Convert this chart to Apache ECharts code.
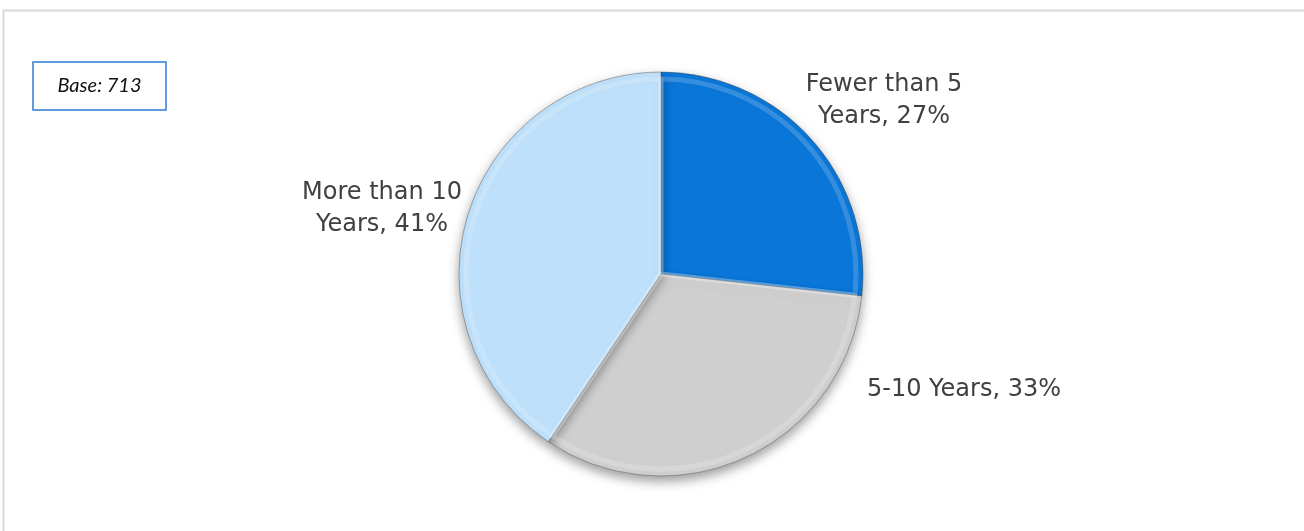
<!DOCTYPE html>
<html>
<head>
<meta charset="utf-8">
<script src="https://cdn.jsdelivr.net/npm/echarts@6/dist/echarts.min.js"></script>
<style>
    html, body { margin: 0; padding: 0; background: #fff; }
    #chartEl { width: 1304px; height: 531px; }
</style>
</head>
<body>
<div id="chartEl"></div>
<script>
// data
var categories = ['Fewer than 5\nYears', '5-10 Years', 'More than 10\nYears'];
var shares = [27, 33, 41];
var baseCount = 713;

var sliceColors = ['#0a76d8', '#cfcfcf', '#bee0fa'];
// where each label sits (x, y, align)
var labelSpots = [
    [884, 101, 'center'],
    [867, 390, 'left'],
    [382, 209, 'center']
];

var chart = echarts.init(document.getElementById('chartEl'));

var pieData = [];
for (var i = 0; i < categories.length; i++) {
    pieData.push({
        name: categories[i],
        value: shares[i],
        itemStyle: { color: sliceColors[i] }
    });
}

var option = {
    animation: false,
    graphic: [
        {
            // chart frame, cut at top/left like the slide
            type: 'polyline',
            shape: { points: [[3.5, 540], [3.5, 10.5], [1310, 10.5]] },
            style: { fill: null, stroke: '#d9d9d9', lineWidth: 2 }
        },
        {
            type: 'rect',
            shape: { x: 33, y: 62, width: 133, height: 48 },
            style: { fill: '#fff', stroke: '#2a7fd4', lineWidth: 1.5 }
        },
        {
            type: 'text',
            x: 99.5,
            y: 86,
            style: {
                text: 'Base: ' + baseCount,
                font: 'italic 20px Lato',
                fill: '#111',
                align: 'center',
                verticalAlign: 'middle'
            }
        }
    ],
    series: [
        {
            type: 'pie',
            center: [661, 274],
            radius: 202,
            startAngle: 90,
            clockwise: true,
            data: pieData,
            itemStyle: {
                borderColor: 'rgba(60,60,60,0.4)',
                borderWidth: 1,
                shadowBlur: 12,
                shadowOffsetY: 5,
                shadowColor: 'rgba(0,0,0,0.4)'
            },
            label: {
                show: true,
                position: 'outside',
                formatter: '{b}, {c}%',
                fontFamily: 'DejaVu Sans',
                fontSize: 24,
                lineHeight: 32,
                color: '#404040'
            },
            labelLine: { show: false },
            labelLayout: function (params) {
                var s = labelSpots[params.dataIndex];
                return { x: s[0], y: s[1], align: s[2], verticalAlign: 'middle' };
            },
            emphasis: { disabled: true }
        },
        {
            // soft bevel highlight on top of the slices
            type: 'pie',
            silent: true,
            center: [661, 274],
            radius: 195,
            startAngle: 90,
            clockwise: true,
            data: shares.map(function (v) { return { value: v }; }),
            itemStyle: {
                color: 'rgba(0,0,0,0)',
                borderColor: 'rgba(255,255,255,0.18)',
                borderWidth: 5
            },
            label: { show: false },
            labelLine: { show: false },
            emphasis: { disabled: true }
        }
    ]
};

chart.setOption(option);
window.addEventListener('resize', function () {
    chart.resize();
});
</script>
</body>
</html>
